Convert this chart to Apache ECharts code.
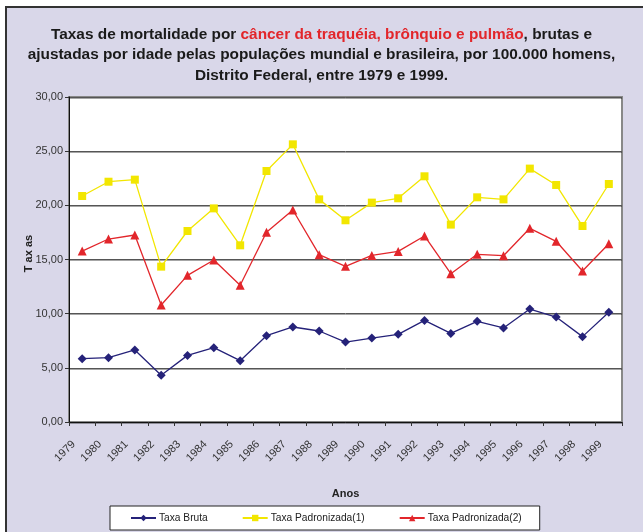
<!DOCTYPE html>
<html>
<head>
<meta charset="utf-8">
<script src="https://cdn.jsdelivr.net/npm/echarts@6/dist/echarts.min.js"></script>
<style>html,body{margin:0;padding:0;background:#fff;}#c{width:643px;height:532px;}</style>
</head>
<body>
<div id="c"></div>
<script>
var years = ['1979','1980','1981','1982','1983','1984','1985','1986','1987','1988','1989','1990','1991','1992','1993','1994','1995','1996','1997','1998','1999'];
var taxaBruta = [5.85,5.94,6.65,4.31,6.15,6.86,5.66,7.97,8.77,8.40,7.38,7.75,8.09,9.38,8.18,9.29,8.68,10.43,9.69,7.88,10.13];
var taxaPad1 = [20.86,22.18,22.37,14.34,17.63,19.72,16.31,23.17,25.63,20.55,18.62,20.25,20.65,22.68,18.22,20.74,20.55,23.39,21.88,18.09,21.97];
var taxaPad2 = [15.78,16.89,17.26,10.80,13.54,14.95,12.62,17.51,19.57,15.45,14.37,15.38,15.75,17.17,13.69,15.48,15.35,17.88,16.68,13.94,16.46];
var seriesNames = ['Taxa Bruta','Taxa Padronizada(1)','Taxa Padronizada(2)'];
var yTicks = {min:0, max:30, interval:5};

var chart = echarts.init(document.getElementById('c'), null, {renderer:'canvas'});
var narrow = '"Liberation Sans Narrow", "Liberation Sans", Arial, sans-serif';
var sans = '"Liberation Sans", Arial, sans-serif';
chart.setOption({
  backgroundColor: '#fff',
  animation: false,
  graphic: [{
    type: 'rect', z: -10, silent: true,
    shape: {x: 6, y: 7, width: 660, height: 560},
    style: {fill: '#d9d7e9', stroke: '#333', lineWidth: 2}
  }],
  title: {
    left: 'center', top: 19,
    text: '{a|Taxas de mortalidade por }{r|câncer da traquéia, brônquio e pulmão}{a|, brutas e}\n{a|ajustadas por idade pelas populações mundial e brasileira, por 100.000 homens,}\n{a|Distrito Federal, entre 1979 e 1999.}',
    textStyle: {
      rich: {
        a: {fontFamily: narrow, fontWeight: 'bold', fontSize: 15.4, color: '#1a1a1a', lineHeight: 20.5},
        r: {fontFamily: narrow, fontWeight: 'bold', fontSize: 15.4, color: '#e2262b', lineHeight: 20.5}
      }
    }
  },
  legend: {
    left: 110, top: 506,
    backgroundColor: '#fff', borderColor: '#222', borderWidth: 1,
    padding: [7, 18, 7, 20],
    itemWidth: 25, itemHeight: 8, itemGap: 34,
    textStyle: {fontFamily: sans, fontSize: 10.2, color: '#222', padding: [0, 0, 0, -2]},
    data: seriesNames
  },
  grid: {
    left: 69, right: 21, top: 97, bottom: 110,
    show: true, backgroundColor: '#fff', borderColor: '#888', borderWidth: 2
  },
  xAxis: {
    type: 'category', data: years, boundaryGap: true,
    name: 'Anos', nameLocation: 'middle', nameGap: 66, nameMoveOverlap: false,
    nameTextStyle: {fontFamily: sans, fontWeight: 'bold', fontSize: 11, color: '#222'},
    axisLine: {lineStyle: {color: '#111', width: 1}},
    axisTick: {show: true, length: 4, lineStyle: {color: '#333'}},
    axisLabel: {rotate: 45, fontFamily: sans, fontSize: 11, color: '#333', margin: 12, padding: [0, 12, 0, 0], interval: 0}
  },
  yAxis: {
    type: 'value', min: yTicks.min, max: yTicks.max, interval: yTicks.interval,
    name: 'T ax as', nameLocation: 'middle', nameGap: 35, nameRotate: 90, nameMoveOverlap: false,
    nameTextStyle: {fontFamily: sans, fontWeight: 'bold', fontSize: 11, color: '#222', padding: [0, 0, 0, 12]},
    axisLine: {show: true, lineStyle: {color: '#111', width: 1}},
    axisTick: {show: true, length: 4, lineStyle: {color: '#333'}},
    axisLabel: {fontFamily: sans, fontSize: 11, color: '#333', margin: 6,
      formatter: function(v){ return v.toFixed(2).replace('.', ','); }},
    splitLine: {show: true, lineStyle: {color: '#555', width: 1, shadowColor: 'rgba(0,0,0,0.35)', shadowOffsetY: 1, shadowBlur: 0}}
  },
  series: [
    {name: seriesNames[0], type: 'line', data: taxaBruta, symbol: 'diamond', symbolSize: 9,
     itemStyle: {color: '#252279'}, lineStyle: {width: 1.3, color: '#252279'}},
    {name: seriesNames[1], type: 'line', data: taxaPad1, symbol: 'rect', symbolSize: 8,
     itemStyle: {color: '#f2e600'}, lineStyle: {width: 1.3, color: '#f2e600'}},
    {name: seriesNames[2], type: 'line', data: taxaPad2, symbol: 'triangle', symbolSize: 9,
     itemStyle: {color: '#e2262b'}, lineStyle: {width: 1.3, color: '#e2262b'}}
  ]
});
</script>
</body>
</html>
